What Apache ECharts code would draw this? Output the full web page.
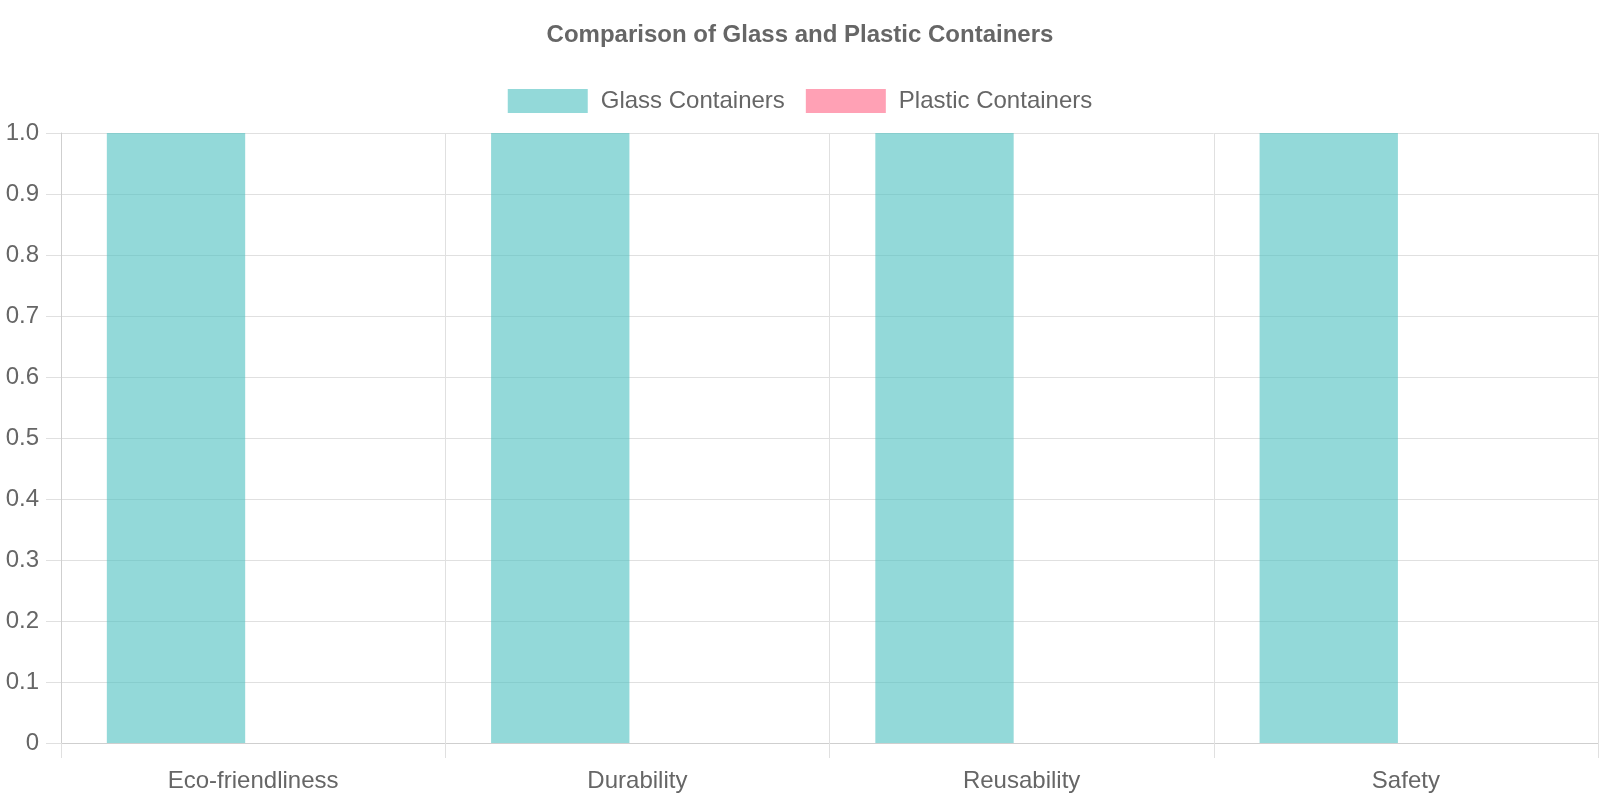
<!DOCTYPE html>
<html>
<head>
<meta charset="utf-8">
<title>Comparison of Glass and Plastic Containers</title>
<script src="https://cdn.jsdelivr.net/npm/echarts@6/dist/echarts.min.js"></script>
<style>
  html, body { margin: 0; padding: 0; background: #fff; }
  #chart { width: 1600px; height: 800px; }
</style>
</head>
<body>
<div id="chart"></div>
<script>
// 数据
const categories = ["Eco-friendliness", "Durability", "Reusability", "Safety"];
const glassValues = [1, 1, 1, 1];
const plasticValues = [0, 0, 0, 0];

const textColor = "#666";
const gridColor = "#e0e0e0";
const axisColor = "#cfcfcf";
const font = "'Liberation Sans', Arial, Helvetica, sans-serif";

const chart = echarts.init(document.getElementById("chart"));

const option = {
  animation: false,
  textStyle: { fontFamily: font },
  title: {
    text: "Comparison of Glass and Plastic Containers",
    left: "center",
    top: 18,
    textStyle: { fontSize: 24, fontWeight: "bold", color: textColor, fontFamily: font }
  },
  legend: {
    top: 84,
    left: "center",
    icon: "rect",
    itemWidth: 80,
    itemHeight: 24,
    itemGap: 21,
    textStyle: { fontSize: 24, color: textColor, fontFamily: font, padding: [0, 0, 0, 8] },
    data: ["Glass Containers", "Plastic Containers"]
  },
  grid: {
    left: 61,
    right: 2,
    top: 133,
    bottom: 57,
    containLabel: false
  },
  xAxis: {
    type: "category",
    data: categories,
    axisLine: { show: true, lineStyle: { color: axisColor, width: 1 } },
    axisTick: { show: true, length: 15, lineStyle: { color: gridColor } },
    splitLine: { show: true, lineStyle: { color: gridColor } },
    axisLabel: { interval: 0, fontSize: 24, color: textColor, margin: 26, fontFamily: font }
  },
  yAxis: {
    type: "value",
    min: 0,
    max: 1,
    interval: 0.1,
    axisLine: { show: true, lineStyle: { color: axisColor, width: 1 } },
    axisTick: { show: true, length: 15, lineStyle: { color: gridColor } },
    splitLine: { show: true, lineStyle: { color: gridColor } },
    axisLabel: {
      fontSize: 24,
      color: textColor,
      margin: 22,
      fontFamily: font,
      formatter: function (v) {
        return v === 0 ? "0" : v.toFixed(1);
      }
    }
  },
  series: [
    {
      name: "Glass Containers",
      type: "bar",
      data: glassValues,
      barWidth: "36%",
      barGap: "11.5%",
      itemStyle: { color: "rgba(75, 192, 192, 0.6)" }
    },
    {
      name: "Plastic Containers",
      type: "bar",
      data: plasticValues,
      barWidth: "36%",
      itemStyle: { color: "rgba(255, 99, 132, 0.6)" }
    }
  ]
};

chart.setOption(option);
window.addEventListener("resize", () => chart.resize());
</script>
</body>
</html>
